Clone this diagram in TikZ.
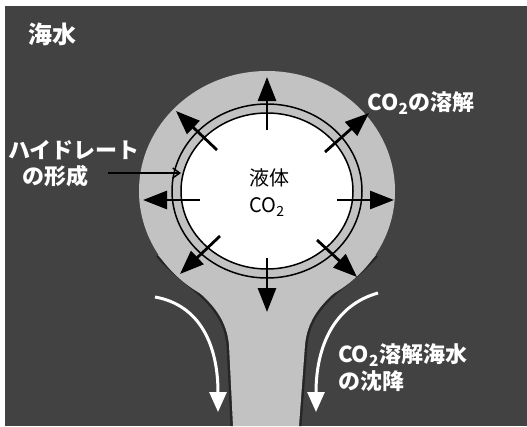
\documentclass[tikz,border=0pt]{standalone}
\usepackage{fontspec}
\setmainfont{Noto Sans CJK JP}
\usetikzlibrary{arrows.meta}
\definecolor{sea}{HTML}{424242}
\definecolor{plume}{HTML}{C2C2C2}

\begin{document}
\begin{tikzpicture}[x=1pt,y=-1pt,
  whitelabel/.style={text=white,inner sep=0pt,font=\fontsize{22}{24}\selectfont\bfseries},
  darklabel/.style={text=black,inner sep=0pt,font=\fontsize{20}{24}\selectfont},
  outarrow/.style={line width=2.8pt,-{Triangle[length=24pt,width=18pt]}},
  sinkarrow/.style={white,line width=3pt,-{Triangle[length=20pt,width=17pt]}},
  ringline/.style={line width=1.5pt},
  pointer/.style={line width=1.5pt,-{Straight Barb[length=7pt,width=10pt]}}]
\useasboundingbox (0,0) rectangle (527,426);
\fill[white] (0,0) rectangle (527,426);
\fill[sea] (5,6) rectangle (527,426);

% dark rim along the sinking column
\draw[black!85,line width=5pt]
  (158,255) .. controls (184,286) and (225,300) .. (229,345) -- (233,426);
\draw[black!85,line width=5pt]
  (376,255) .. controls (350,286) and (309,300) .. (305,345) -- (299,426);

% dissolved CO2 region: bubble plus sinking column
\fill[plume] (267,191) ellipse [x radius=128, y radius=120];
\fill[plume] (158,255) .. controls (184,286) and (225,300) .. (229,345)
  -- (233,426) -- (299,426) -- (305,345)
  .. controls (309,300) and (350,286) .. (376,255) -- cycle;

% hydrate shell and liquid CO2
\draw[ringline] (267,191) ellipse [x radius=95, y radius=87];
\fill[white] (267,191) ellipse [x radius=86, y radius=78];
\draw[ringline] (267,191) ellipse [x radius=86, y radius=78];

% radial dissolution arrows
\foreach \n/\tx/\ty/\hx/\hy in {
  1/267/130/267/77, 2/217/150/176/111, 3/325/152/369/113,
  4/200/200/143/200, 5/337/200/394/200, 6/220/236/180/274,
  7/267/258/267/312, 8/317/240/357/277}{
  \coordinate (tail\n) at (\tx,\ty);
  \coordinate (head\n) at (\hx,\hy);
  \draw[outarrow] (tail\n) -- (head\n);
}

% sinking seawater arrows
\coordinate (sinkL0) at (155,297);
\coordinate (sinkL1) at (218,412);
\coordinate (sinkR0) at (378,293);
\coordinate (sinkR1) at (316,412);
\draw[sinkarrow] (sinkL0) .. controls (200,305) and (218,345) .. (sinkL1);
\draw[sinkarrow] (sinkR0) .. controls (335,305) and (316,345) .. (sinkR1);

% labels
\node[whitelabel,font=\fontsize{24}{26}\selectfont\bfseries] (sea) at (52,34) {海水};
\node[whitelabel] (dissolve) at (421,103) {CO\textsubscript{2}の溶解};
\node[whitelabel,anchor=west] (hyd1) at (8,150) {ハイドレート};
\node[whitelabel,anchor=west] (hyd2) at (22,176) {の形成};
\coordinate (ptr) at (108,173);
\coordinate (shell) at (181,173);
\draw[pointer] (ptr) -- (shell);
\node[darklabel] (liq1) at (269,178) {液体};
\node[darklabel] (liq2) at (267,207) {CO\textsubscript{2}};
\node[whitelabel,anchor=west] (sink1) at (338,355) {CO\textsubscript{2}溶解海水};
\node[whitelabel,anchor=west] (sink2) at (338,381) {の沈降};
\end{tikzpicture}
\end{document}
